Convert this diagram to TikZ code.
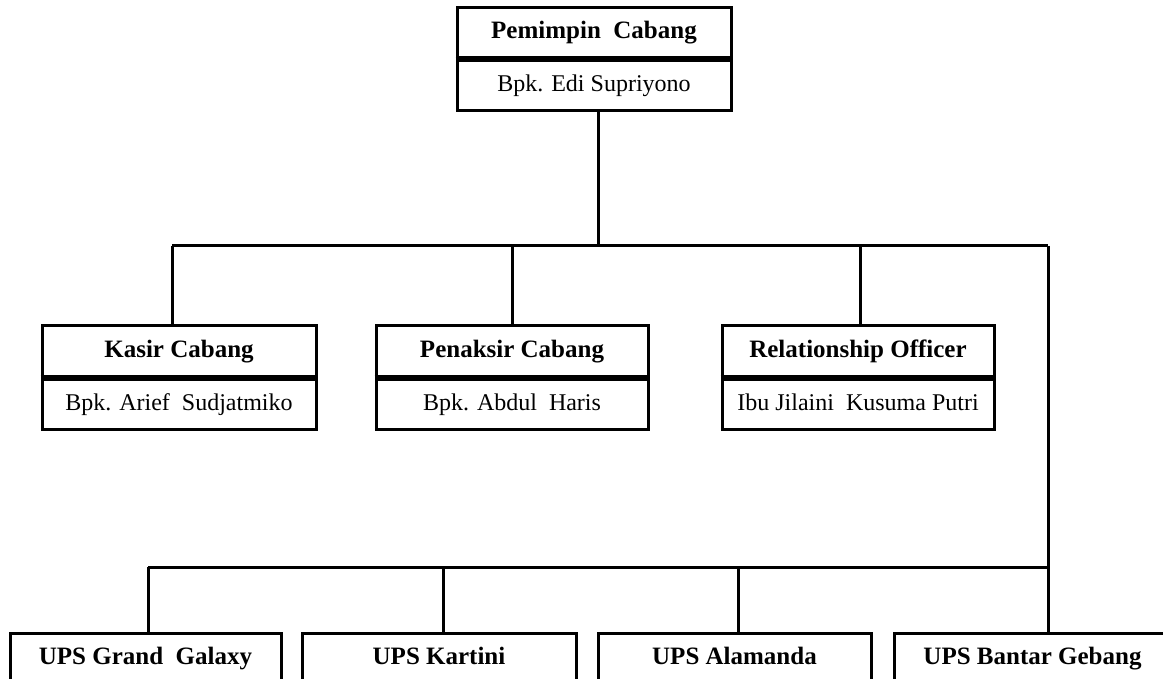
\documentclass[tikz,border=0pt]{standalone}
\usepackage{fontspec}
\setmainfont{Liberation Serif}
\begin{document}
\begin{tikzpicture}[x=1pt,y=-1pt,
  line/.style={line width=3pt},
  part/.style={draw,line width=3pt,rectangle,minimum height=50pt,inner sep=0pt,
     text height=17pt,text depth=5pt,font=\fontsize{24}{28}\selectfont},
  ttl/.style={part,font=\fontsize{25}{28}\selectfont\bfseries},
  sep/.style={line width=5.5pt}]
\useasboundingbox (0,0) rectangle (1163,679);
\clip (0,0) rectangle (1163,679);
% top box
\node[ttl,minimum width=274pt] (pc-t) at (594,33) {Pemimpin\ \ Cabang};
\node[part,minimum width=274pt,anchor=north] (pc-n) at (pc-t.south) {Bpk. Edi Supriyono};
\draw[sep] (pc-t.south west) -- (pc-t.south east);
% second row
\node[ttl,minimum width=274pt] (kc-t) at (179,351) {Kasir Cabang};
\node[part,minimum width=274pt,anchor=north] (kc-n) at (kc-t.south) {Bpk. Arief\ \ Sudjatmiko};
\draw[sep] (kc-t.south west) -- (kc-t.south east);
\node[ttl,minimum width=272pt] (pn-t) at (512,351) {Penaksir Cabang};
\node[part,minimum width=272pt,anchor=north] (pn-n) at (pn-t.south) {Bpk. Abdul\ \ Haris};
\draw[sep] (pn-t.south west) -- (pn-t.south east);
\node[ttl,minimum width=272pt] (ro-t) at (858,351) {Relationship\ Officer};
\node[part,minimum width=272pt,anchor=north] (ro-n) at (ro-t.south) {Ibu Jilaini\ \ Kusuma Putri};
\draw[sep] (ro-t.south west) -- (ro-t.south east);
% bottom row
\node[ttl,minimum width=271pt,anchor=north] (u1) at (145.5,632) {UPS Grand\ \ Galaxy};
\node[ttl,minimum width=274pt,anchor=north] (u2) at (439,632) {UPS Kartini};
\node[ttl,minimum width=273pt,anchor=north] (u3) at (734.5,632) {UPS Alamanda};
\node[ttl,minimum width=290pt,anchor=north west] (u4) at (893,632) {\hspace*{-14pt}UPS Bantar Gebang};
% connectors
\coordinate (hub) at (598,246);
\coordinate (rj) at (1048,246);
\coordinate (hub2) at (148,567);
\coordinate (d1) at ([xshift=-7pt]kc-t.north);
\coordinate (d3) at ([xshift=2pt]ro-t.north);
\coordinate (e1) at ([xshift=2.5pt]u1.north);
\coordinate (e2) at ([xshift=4pt]u2.north);
\coordinate (e3) at ([xshift=3.5pt]u3.north);
\draw[line] ([xshift=4pt]pc-n.south) -- ([xshift=4pt]pc-n.south |- hub);
\draw[line] (d1 |- hub) -- (rj);
\draw[line] (d1 |- hub) -- (d1);
\draw[line] (pn-t.north |- hub) -- (pn-t.north);
\draw[line] (d3 |- hub) -- (d3);
\draw[line] (rj) -- (rj |- u4.north);
\draw[line] (e1 |- hub2) -- (rj |- hub2);
\draw[line] (e1 |- hub2) -- (e1);
\draw[line] (e2 |- hub2) -- (e2);
\draw[line] (e3 |- hub2) -- (e3);
\end{tikzpicture}
\end{document}
